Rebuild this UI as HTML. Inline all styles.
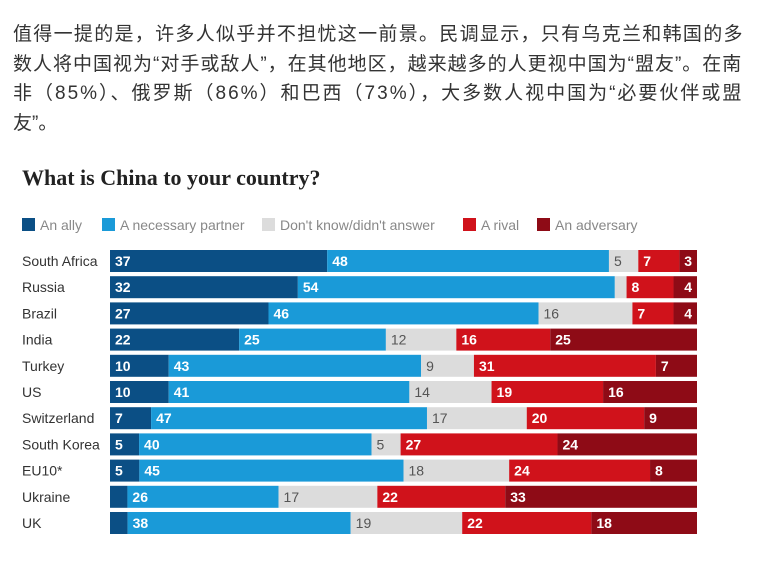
<!DOCTYPE html>
<html><head><meta charset="utf-8">
<style>
html,body{margin:0;padding:0;background:#fff;width:762px;height:570px;overflow:hidden}
#intro{position:absolute;left:13px;top:20px;width:760px;font-family:"Liberation Sans","Noto Sans CJK SC",sans-serif;font-size:19px;line-height:29.6px;color:#333;margin:0}
#intro div{white-space:nowrap}
#chart{position:absolute;left:0;top:0}
</style></head><body>
<div id="intro">
<div style="letter-spacing:1.3px">值得一提的是，许多人似乎并不担忧这一前景。民调显示，只有乌克兰和韩国的多</div>
<div style="letter-spacing:1px">数人将中国视为“对手或敌人”，在其他地区，越来越多的人更视中国为“盟友”。在南</div>
<div style="letter-spacing:2px">非（85%）、俄罗斯（86%）和巴西（73%），大多数人视中国为“必要伙伴或盟</div>
<div>友”。</div>
</div>
<svg id="chart" width="762" height="570">
<text x="22" y="185" font-family="Liberation Serif,serif" font-weight="bold" font-size="22" fill="#222">What is China to your country?</text>
<g id="legend"></g>
<g id="rows"></g>
</svg>
<script>
const countries=["South Africa","Russia","Brazil","India","Turkey","US","Switzerland","South Korea","EU10*","Ukraine","UK"];
const ally=[37,32,27,22,10,10,7,5,5,3,3];
const partner=[48,54,46,25,43,41,47,40,45,26,38];
const dontKnow=[5,2,16,12,9,14,17,5,18,17,19];
const rival=[7,8,7,16,31,19,20,27,24,22,22];
const adversary=[3,4,4,25,7,16,9,24,8,33,18];
const seriesNames=["An ally","A necessary partner","Don't know/didn't answer","A rival","An adversary"];
const series=[ally,partner,dontKnow,rival,adversary];
const colors=["#0b4f85","#1a9ad8","#dcdcdc","#d0121b","#8e0b16"];
const textCol=["#fff","#fff","#555","#fff","#fff"];
const NS="http://www.w3.org/2000/svg";
const X0=110,W=587,Y0=250,PITCH=26.2,BH=22;
const xs=v=>v/100*W;
const yRow=i=>Y0+i*PITCH;
function mk(t,a){const e=document.createElementNS(NS,t);for(const k in a)e.setAttribute(k,a[k]);return e;}
const leg=document.getElementById('legend');
const legX=[22,102,262,463,537];
seriesNames.forEach((n,j)=>{
  const g=mk('g',{});
  
  
  g.appendChild(mk('rect',{x:legX[j],y:218,width:13,height:13,fill:colors[j]}));
  const t=mk('text',{x:legX[j]+18,y:230,'font-family':'Liberation Sans,sans-serif','font-size':14,fill:'#888'});
  t.textContent=n;g.appendChild(t);leg.appendChild(g);
});
const rows=document.getElementById('rows');
countries.forEach((c,i)=>{
  const y=yRow(i);
  const lab=mk('text',{x:22,y:y+BH/2+5,'font-family':'Liberation Sans,sans-serif','font-size':14,fill:'#333'});
  
  
  lab.textContent=c;rows.appendChild(lab);
  const tot=series.reduce((s,a)=>s+a[i],0);
  let acc=0;
  series.forEach((arr,j)=>{
    const v=arr[i];const x=X0+xs(acc/tot*100);const w=xs(v/tot*100);
    const r=mk('rect',{x:x,y:y,width:w,height:BH,fill:colors[j]});
    
    
    rows.appendChild(r);
    if(v>=4||(j>=3&&i<3)){
      const endA=(j===4&&w<40);
      const t=mk('text',{x:endA?x+w-5:x+5,y:y+BH/2+5,'font-family':'Liberation Sans,sans-serif','font-size':14,'font-weight':j===2?'normal':'bold',fill:textCol[j],'text-anchor':endA?'end':'start'});
      
      
      t.textContent=v;rows.appendChild(t);
    }
    acc+=v;
  });
});
</script>
</body></html>
